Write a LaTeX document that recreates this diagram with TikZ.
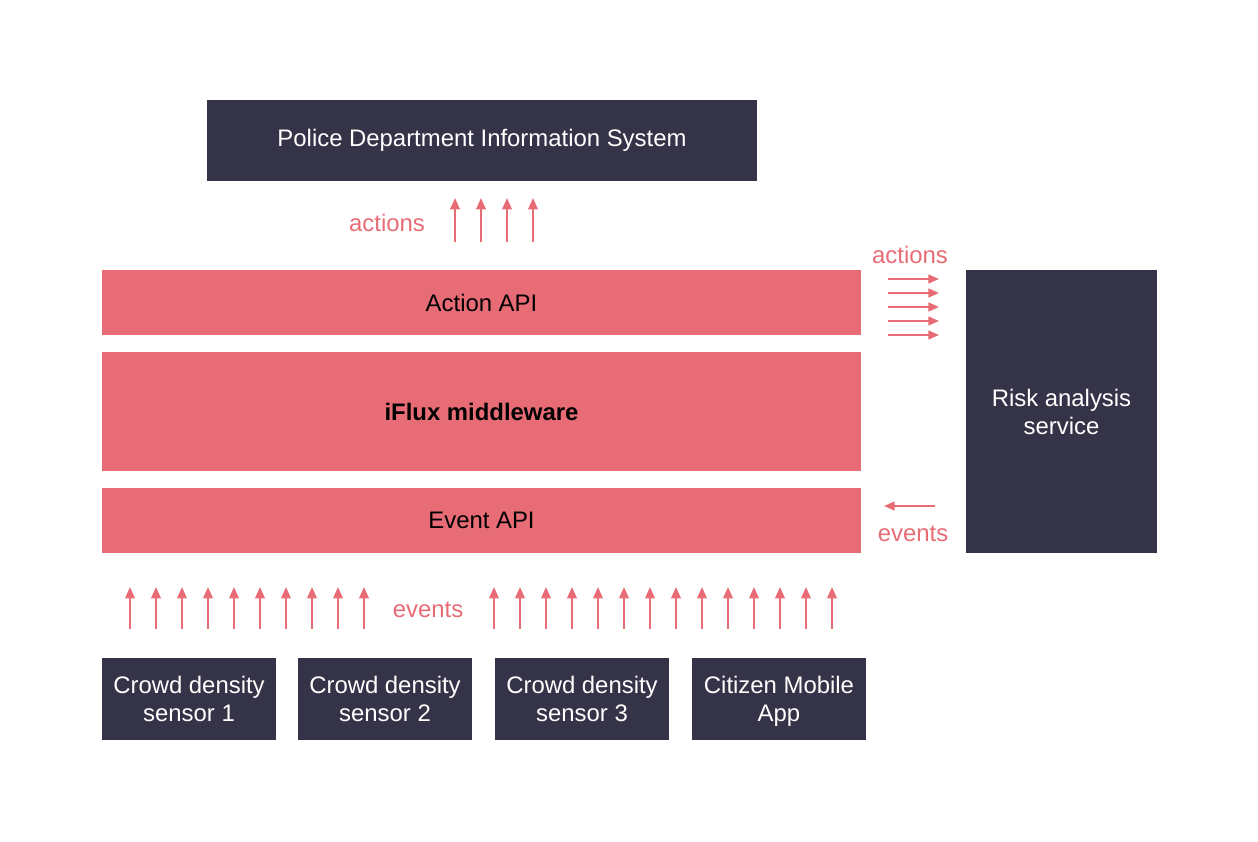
\documentclass[tikz,border=0pt]{standalone}
\usepackage{fontspec}
\setmainfont{Liberation Sans}
\usepackage{tikz}
\usetikzlibrary{arrows.meta}
\definecolor{ifluxred}{HTML}{E76C76}
\definecolor{ifluxdark}{HTML}{353347}

\begin{document}
\begin{tikzpicture}[x=0.02cm,y=-0.02cm,
    darkbox/.style={fill=ifluxdark, text=white, inner sep=0pt,
        align=center, font=\fontsize{13.6}{15.9}\selectfont},
    redbox/.style={fill=ifluxred, text=black, inner sep=0pt,
        minimum width=15.18cm, align=center,
        font=\fontsize{13.6}{15.9}\selectfont},
    sensor/.style={darkbox, minimum width=3.48cm, minimum height=1.64cm},
    flow/.style={draw=ifluxred, line width=1.1pt,
        -{Triangle[length=6.5pt,width=5.5pt]}},
    flowlabel/.style={text=ifluxred, font=\fontsize{13.6}{15}\selectfont}]
    \useasboundingbox (0,0) rectangle (1258,842);

    % top system
    \node[darkbox, minimum width=11cm, minimum height=1.62cm] (pdis)
        at (482,140.5) {Police Department Information System};

    % middleware stack
    \node[redbox, minimum height=1.3cm]  (action) at (481.5,302.5) {Action API};
    \node[redbox, minimum height=2.38cm] (iflux)  at (481.5,411.5) {\bfseries iFlux middleware};
    \node[redbox, minimum height=1.3cm]  (event)  at (481.5,520.5) {Event API};

    % side service
    \node[darkbox, minimum width=3.82cm, minimum height=5.66cm] (risk)
        at (1061.5,411.5) {Risk analysis\\service};

    % producers
    \node[sensor] (s1)  at (189,699) {Crowd density\\sensor 1};
    \node[sensor] (s2)  at (385,699) {Crowd density\\sensor 2};
    \node[sensor] (s3)  at (582,699) {Crowd density\\sensor 3};
    \node[sensor] (app) at (779,699) {Citizen Mobile\\A\smash{pp}};

    % events up into the Event API
    \foreach \x in {130,156,...,364}
        \draw[flow] (\x,629) -- (\x,587);
    \foreach \x in {494,520,...,832}
        \draw[flow] (\x,629) -- (\x,587);
    \node[flowlabel] (evlow) at (428,610) {events};

    % actions up to the police system
    \foreach \x in {455,481,507,533}
        \draw[flow] (\x,242) -- (\x,198);
    \node[flowlabel] (actop) at (387,223) {actions};

    % actions to / events from the risk service
    \foreach \y in {279,293,...,335}
        \draw[flow, -{Triangle[length=6pt,width=5pt]}] (888,\y) -- (939,\y);
    \node[flowlabel] (acside) at (910,255) {actions};
    \draw[flow, -{Triangle[length=6pt,width=5pt]}] (935,506) -- (884,506);
    \node[flowlabel] (evside) at (913,534) {events};

\end{tikzpicture}
\end{document}
